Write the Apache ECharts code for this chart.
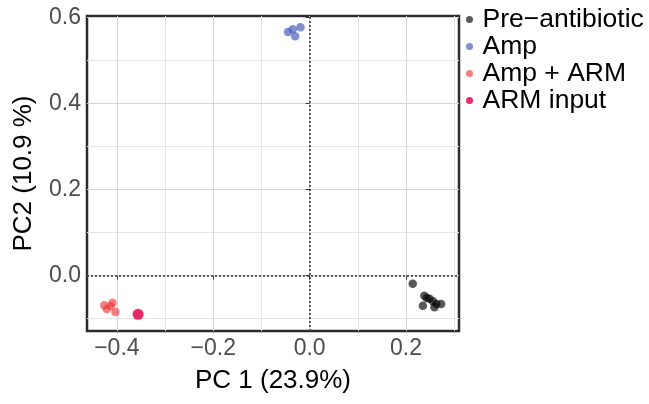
<!DOCTYPE html>
<html>
<head>
<meta charset="utf-8">
<script src="https://cdn.jsdelivr.net/npm/echarts@6/dist/echarts.min.js"></script>
<style>
  html, body { margin: 0; padding: 0; background: #fff; }
  #main { width: 649px; height: 404px; }
</style>
</head>
<body>
<div id="main"></div>
<script>
// PCA scores
var groups = ['Pre\u2212antibiotic', 'Amp', 'Amp + ARM', 'ARM input']

var preX = [0.214, 0.238, 0.243, 0.249, 0.256, 0.263, 0.259, 0.235, 0.273]
var preY = [-0.019, -0.047, -0.052, -0.054, -0.060, -0.066, -0.074, -0.070, -0.066]
var ampX = [-0.045, -0.035, -0.019, -0.030]
var ampY = [0.567, 0.573, 0.578, 0.557]
var armX = [-0.426, -0.409, -0.421, -0.403, -0.413]
var armY = [-0.069, -0.063, -0.078, -0.085, -0.071]
var inputX = [-0.356]
var inputY = [-0.090]

var xTicks = [-0.4, -0.2, 0, 0.2]
var yTicks = [0, 0.2, 0.4, 0.6]

var colors = ['#000000', '#3c55b5', '#ee3b3b', '#e8185a']

function pairs (xs, ys) {
  var out = []
  for (let i = 0; i < xs.length; i++) out.push([xs[i], ys[i]])
  return out
}

var font = 'Liberation Sans, Arial, sans-serif'

function fmt (v) {
  return v.toFixed(1).replace('-', '\u2212')
}

var myChart = echarts.init(document.getElementById('main'))

var seriesData = [pairs(preX, preY), pairs(ampX, ampY), pairs(armX, armY), pairs(inputX, inputY)]
var series = []
for (let i = 0; i < groups.length; i++) {
  series.push({
    name: groups[i],
    type: 'scatter',
    data: seriesData[i],
    symbolSize: i === 3 ? 11 : 8.5,
    itemStyle: { color: colors[i], opacity: i === 3 ? 0.92 : 0.65 },
    emphasis: { disabled: true },
    silent: true
  })
}
// dotted reference lines through the origin
series[0].markLine = {
  silent: true,
  symbol: 'none',
  label: { show: false },
  lineStyle: { color: '#333', type: [2, 2], width: 1.5 },
  data: [{ xAxis: 0 }, { yAxis: 0 }]
}

var option = {
  backgroundColor: '#fff',
  animation: false,
  grid: {
    left: 87, right: 190, top: 16, bottom: 73,
    show: true, borderColor: '#2b2b2b', borderWidth: 2.5, backgroundColor: 'transparent'
  },
  legend: {
    orient: 'vertical',
    left: 461,
    top: 1,
    itemWidth: 16,
    itemHeight: 7,
    itemGap: 0,
    icon: 'circle',
    textStyle: { fontSize: 26.5, lineHeight: 25.5, color: '#000', fontFamily: font },
    data: groups
  },
  xAxis: {
    type: 'value',
    min: -0.462,
    max: 0.31,
    splitNumber: 4,
    name: 'PC 1 (23.9%)',
    nameLocation: 'middle',
    nameGap: 37,
    nameTextStyle: { fontSize: 26, color: '#000', fontFamily: font },
    axisLine: { show: false },
    axisTick: { show: true, length: 4, lineStyle: { color: '#333' }, customValues: xTicks },
    axisLabel: {
      fontSize: 23, color: '#4d4d4d', fontFamily: font, margin: 6,
      customValues: xTicks, formatter: fmt
    },
    splitLine: { show: true, lineStyle: { color: '#d4d4d4', width: 1 } },
    minorTick: { show: false, splitNumber: 2 },
    minorSplitLine: { show: true, lineStyle: { color: '#e4e4e4', width: 1 } }
  },
  yAxis: {
    type: 'value',
    min: -0.129,
    max: 0.604,
    splitNumber: 4,
    name: 'PC2 (10.9 %)',
    nameLocation: 'middle',
    nameGap: 50,
    nameTextStyle: { fontSize: 26, color: '#000', fontFamily: font },
    axisLine: { show: false },
    axisTick: { show: true, length: 4, lineStyle: { color: '#333' }, customValues: yTicks },
    axisLabel: {
      fontSize: 23, color: '#4d4d4d', fontFamily: font, margin: 6,
      customValues: yTicks, formatter: fmt
    },
    splitLine: { show: true, lineStyle: { color: '#d4d4d4', width: 1 } },
    minorTick: { show: false, splitNumber: 2 },
    minorSplitLine: { show: true, lineStyle: { color: '#e4e4e4', width: 1 } }
  },
  series: series
}

myChart.setOption(option, true)
</script>
</body>
</html>
